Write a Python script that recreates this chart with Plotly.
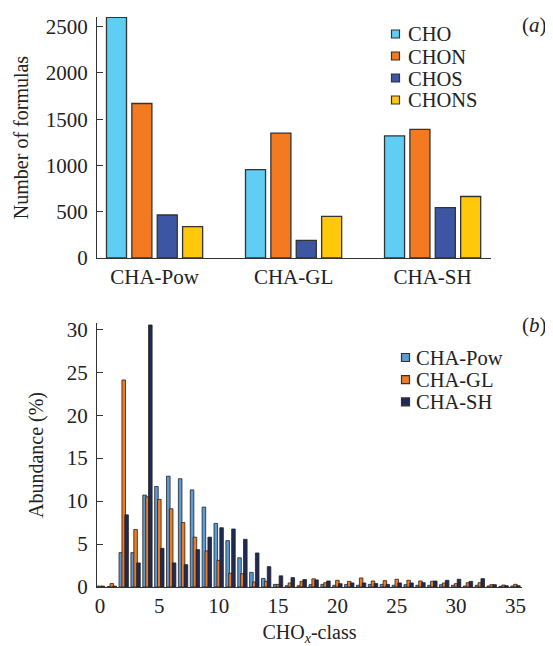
import plotly.graph_objects as go

# ---------------- data: panel (a) ----------------
groups = ["CHA-Pow", "CHA-GL", "CHA-SH"]
formula_types = ["CHO", "CHON", "CHOS", "CHONS"]
cho = [2600, 955, 1320]
chon = [1670, 1350, 1390]
chos = [465, 190, 545]
chons = [340, 450, 665]
counts = [cho, chon, chos, chons]
colors_a = ["#5FCDF4", "#F47A21", "#3C56A4", "#FFC80B"]

# ---------------- data: panel (b) ----------------
cho_class = list(range(0, 36))
samples = ["CHA-Pow", "CHA-GL", "CHA-SH"]
pow_abund = [0.1, 0.05, 4.0, 4.0, 10.7, 11.7, 12.9, 12.6, 11.3, 9.3,
             7.4, 5.4, 3.4, 1.7, 1.0, 0.3, 0.15, 0.15, 0.27, 0.3,
             0.2, 0.3, 0.2, 0.3, 0.3, 0.2, 0.27, 0.2, 0.2, 0.27,
             0.2, 0.12, 0.2, 0.12, 0.08, 0.12]
gl_abund = [0.1, 0.4, 24.1, 6.7, 10.5, 10.2, 9.1, 7.5, 5.8, 4.2,
            3.1, 1.6, 1.55, 0.58, 0.66, 0.3, 0.47, 0.66, 0.95, 0.5,
            0.78, 0.66, 1.05, 0.7, 0.74, 0.9, 0.78, 0.7, 0.66, 0.47,
            0.39, 0.5, 0.5, 0.27, 0.23, 0.31]
sh_abund = [0.1, 0.1, 8.4, 2.8, 30.5, 4.5, 2.8, 2.6, 4.35, 5.8,
            6.9, 6.75, 5.55, 3.96, 2.37, 1.3, 1.09, 0.87, 0.82, 0.7,
            0.39, 0.47, 0.47, 0.4, 0.3, 0.47, 0.47, 0.5, 0.7, 0.78,
            0.9, 0.66, 0.97, 0.27, 0.15, 0.15]
abund = [pow_abund, gl_abund, sh_abund]
colors_b = ["#5A9BD8", "#F07B24", "#1F2A56"]

yticks_a = [0, 500, 1000, 1500, 2000, 2500]
yticks_b = [0, 5, 10, 15, 20, 25, 30]
xticks_b = [0, 5, 10, 15, 20, 25, 30, 35]

FONT = "Liberation Serif"
TXT = "#222222"
OFF = 8            # page body margin
W, H = 553 - OFF, 646 - OFF

def px_x(p):
    return (p - OFF) / W

def px_y(p):
    return (H - (p - OFF)) / H

fig = go.Figure()

for name, vals, col in zip(formula_types, counts, colors_a):
    fig.add_trace(go.Bar(
        x=groups, y=vals, name=name, xaxis="x", yaxis="y",
        marker=dict(color=col, line=dict(color="#333333", width=1.3)),
        showlegend=False,
    ))

for name, vals, col in zip(samples, abund, colors_b):
    fig.add_trace(go.Bar(
        x=cho_class, y=vals, name=name, xaxis="x2", yaxis="y2",
        marker=dict(color=col, line=dict(color="#222222", width=0.8)),
        width=0.3, showlegend=False,
    ))

axis_common = dict(showline=True, linecolor="#333333", linewidth=1.3,
                   showgrid=False, zeroline=False, automargin=False,
                   tickfont=dict(family=FONT, size=21, color=TXT))

# legend keys drawn as shapes + text (reference legend is very tightly spaced)
shapes = []
annotations = []

def add_legend(names, colors, sq_x, text_x, y0, dy, sq):
    for i, (nm, col) in enumerate(zip(names, colors)):
        yc = y0 + i * dy
        shapes.append(dict(type="rect", xref="paper", yref="paper",
                           x0=px_x(sq_x - sq / 2), x1=px_x(sq_x + sq / 2),
                           y0=px_y(yc + sq / 2), y1=px_y(yc - sq / 2),
                           fillcolor=col, line=dict(color="#333333", width=1.2)))
        annotations.append(dict(text=nm, x=px_x(text_x), y=px_y(yc + 0.5),
                                xref="paper", yref="paper", xanchor="left",
                                yanchor="middle", showarrow=False,
                                font=dict(family=FONT, size=20.5, color=TXT)))

add_legend(formula_types, colors_a, 395.5, 406, 34, 22, 8)
add_legend(samples, colors_b, 405.5, 414, 357.5, 22.2, 8)

annotations += [
    dict(text="(<i>a</i>)", x=px_x(520), y=px_y(25), xref="paper", yref="paper",
         xanchor="left", yanchor="middle", showarrow=False,
         font=dict(family=FONT, size=21, color=TXT)),
    dict(text="(<i>b</i>)", x=px_x(520), y=px_y(325), xref="paper", yref="paper",
         xanchor="left", yanchor="middle", showarrow=False,
         font=dict(family=FONT, size=21, color=TXT)),
]

fig.update_layout(
    width=W, height=H, autosize=False,
    margin=dict(l=0, r=0, t=0, b=0, pad=0),
    paper_bgcolor="white", plot_bgcolor="white",
    font=dict(family=FONT, size=20, color=TXT),
    barmode="group",
    bargap=0.27, bargroupgap=0.21,
    xaxis=dict(axis_common, domain=[px_x(97), px_x(491)], anchor="y",
               range=[-0.414, 2.42], ticks="", type="category"),
    yaxis=dict(axis_common, domain=[px_y(258), px_y(17)], anchor="x",
               range=[0, 2605], tickvals=yticks_a, ticks="inside",
               ticklen=6, tickcolor="#333333", ticklabelstandoff=4,
               title=dict(text="Number of formulas", standoff=11,
                          font=dict(family=FONT, size=20, color=TXT))),
    xaxis2=dict(axis_common, domain=[px_x(97), px_x(522)], anchor="y2",
                range=[-0.25, 35.55], tickvals=xticks_b, ticks="",
                title=dict(text="CHO<sub><i>x</i></sub>-class", standoff=8,
                           font=dict(family=FONT, size=20, color=TXT))),
    yaxis2=dict(axis_common, domain=[px_y(587), px_y(323)], anchor="x2",
                range=[0, 30.73], tickvals=yticks_b, ticks="inside",
                ticklen=6, tickcolor="#333333", ticklabelstandoff=4,
                title=dict(text="Abundance (%)", standoff=17,
                           font=dict(family=FONT, size=20, color=TXT))),
    shapes=shapes,
    annotations=annotations,
)

fig.write_html("out.html")
